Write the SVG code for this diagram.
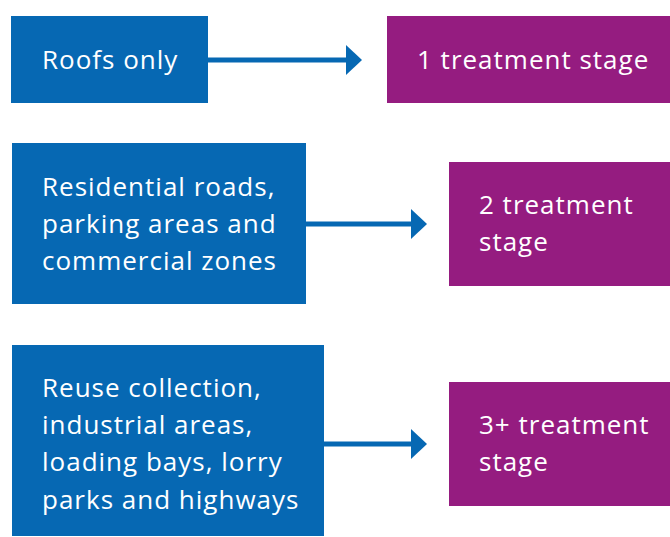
<svg xmlns="http://www.w3.org/2000/svg" width="670" height="537" viewBox="0 0 670 537">
<style>
.src{fill:#0668B3}
.dst{fill:#951C80}
.t{font-family:"Open Sans","Noto Sans",sans-serif;font-size:26px;letter-spacing:1px;fill:#ffffff}
.c{stroke:#0668B3;stroke-width:5;fill:none}
.h{fill:#0668B3}
</style>
<rect width="670" height="537" fill="#ffffff"/>
<g id="roofs"><rect class="src" x="11" y="16" width="197" height="87"/><text class="t" x="42" y="69">Roofs only</text></g>
<g id="stage1"><rect class="dst" x="387" y="16" width="283" height="87"/><text class="t" x="417" y="69">1 treatment stage</text></g>
<g id="residential"><rect class="src" x="12" y="143" width="294" height="161"/><text class="t" x="42" y="196">Residential roads,</text><text class="t" x="42" y="233">parking areas and</text><text class="t" x="42" y="270">commercial zones</text></g>
<g id="stage2"><rect class="dst" x="449" y="162" width="221" height="124"/><text class="t" x="479" y="214">2 treatment</text><text class="t" x="479" y="251">stage</text></g>
<g id="reuse"><rect class="src" x="12" y="345" width="312" height="191"/><text class="t" x="42" y="397">Reuse collection,</text><text class="t" x="42" y="434">industrial areas,</text><text class="t" x="42" y="471">loading bays, lorry</text><text class="t" x="42" y="509">parks and highways</text></g>
<g id="stage3"><rect class="dst" x="449" y="382" width="221" height="124"/><text class="t" x="479" y="434">3+ treatment</text><text class="t" x="479" y="471">stage</text></g>
<g id="connectors">
<line class="c" x1="208" y1="60" x2="348" y2="60"/><polygon class="h" points="346,45 362,60 346,75"/>
<line class="c" x1="306" y1="224" x2="413" y2="224"/><polygon class="h" points="411,209 427,224 411,239"/>
<line class="c" x1="324" y1="444" x2="413" y2="444"/><polygon class="h" points="411,429 427,444 411,459"/>
</g>
</svg>
